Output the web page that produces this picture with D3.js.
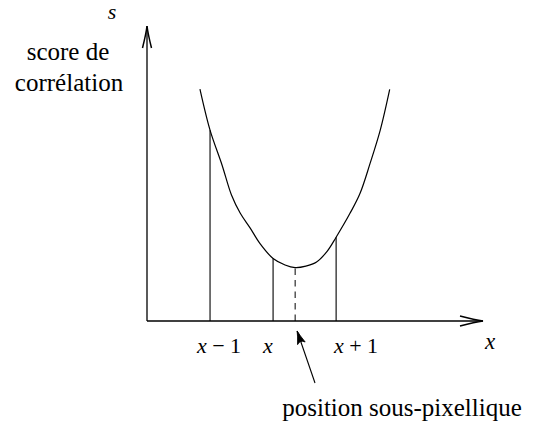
<!DOCTYPE html>
<html>
<head>
<meta charset="utf-8">
<title>score de corrélation</title>
<script src="https://cdn.jsdelivr.net/npm/d3@7"></script>
<style>
  body { margin: 0; background: #fff; }
</style>
</head>
<body>
<div id="container"></div>
<script>
// curve of the correlation score (x in pixel units, s arbitrary)
var curveX = [0.84, 1.0, 1.19, 1.34, 1.48, 1.64, 1.79, 2.0, 2.19, 2.35, 2.52, 2.69, 2.86, 3.0, 3.22, 3.38, 3.54, 3.70, 3.85];
var curveS = [7.86, 6.47, 5.29, 4.27, 3.65, 3.14, 2.63, 2.12, 1.90, 1.81, 1.86, 2.0, 2.37, 2.84, 3.65, 4.33, 5.35, 6.47, 7.85];

// integer pixel samples and the sub-pixel minimum
var sampleX = [1, 2, 3];
var sampleS = [6.47, 2.12, 2.84];
var sampleLabels = ["x-1", "x", "x+1"];
var subX = 2.35, subS = 1.81;

var width = 533, height = 426;

var svg = d3.select("#container").append("svg")
    .attr("width", width)
    .attr("height", height);

var xScale = d3.scaleLinear().domain([0, 5.33]).range([147, 483]);
var yScale = d3.scaleLinear().domain([0, 10]).range([321, 26]);

var g = svg.append("g");

// open latex-like arrow tip, drawn at (x,y) pointing along angle a (degrees)
function tip(x, y, a, len, half) {
  g.append("path")
    .attr("d", "M" + (-len) + "," + (-half) + " Q-8,-1 0,0 Q-8,1 " + (-len) + "," + half)
    .attr("transform", "translate(" + x + "," + y + ") rotate(" + a + ")")
    .attr("fill", "none")
    .attr("stroke", "#000")
    .attr("stroke-width", 1.5);
}

// axes
g.append("line")
    .attr("x1", xScale(0)).attr("y1", yScale(0))
    .attr("x2", xScale(5.33)).attr("y2", yScale(0))
    .attr("stroke", "#000").attr("stroke-width", 1.3);
tip(xScale(5.33), yScale(0), 0, 23, 5);
g.append("line")
    .attr("x1", xScale(0)).attr("y1", yScale(0))
    .attr("x2", xScale(0)).attr("y2", yScale(10))
    .attr("stroke", "#000").attr("stroke-width", 1.3);
tip(xScale(0), yScale(10), -90, 22, 4.5);

// sample verticals
g.selectAll(".sample").data(sampleX).enter()
  .append("line")
    .attr("class", "sample")
    .attr("x1", function(d) { return xScale(d); })
    .attr("x2", function(d) { return xScale(d); })
    .attr("y1", yScale(0))
    .attr("y2", function(d, i) { return yScale(sampleS[i]); })
    .attr("stroke", "#000").attr("stroke-width", 1.1);

// dashed line at the minimum
g.append("line")
    .attr("x1", xScale(subX)).attr("x2", xScale(subX))
    .attr("y1", yScale(0)).attr("y2", yScale(subS))
    .attr("stroke", "#000").attr("stroke-width", 1)
    .attr("stroke-dasharray", "6.5,5");

// the curve
var line = d3.line()
    .x(function(d) { return xScale(d[0]); })
    .y(function(d) { return yScale(d[1]); })
    .curve(d3.curveCatmullRom);
g.append("path")
    .datum(d3.zip(curveX, curveS))
    .attr("d", line)
    .attr("fill", "none")
    .attr("stroke", "#000")
    .attr("stroke-width", 1.2);

// text placed from its left edge, centred by hand on cx
function txt(cx, y, s, size) {
  var t = g.append("text")
    .attr("x", cx).attr("y", y)
    .style("font-family", "Liberation Serif")
    .style("font-size", size + "px")
    .text(s);
  return t;
}
function centre(t, cx) {
  var w = t.node().getComputedTextLength();
  t.attr("x", cx - w / 2);
  return t;
}
// grow the font a bit so the text spans roughly the reference width
function fit(t, target, size) {
  var w = t.node().getComputedTextLength();
  if (w > 0) t.style("font-size", Math.min(25, size * target / w) + "px");
  return t;
}

// tick labels under the samples
var tickPos = [219, 268, 356];
sampleLabels.forEach(function(d, i) {
  var t = txt(tickPos[i], 353, null, 22);
  t.append("tspan").style("font-style", "italic").text("x");
  if (d == "x-1") t.append("tspan").text(" \u2212 1");
  if (d == "x+1") t.append("tspan").text(" + 1");
  centre(t, tickPos[i]);
});

// axis names
centre(txt(490, 349, "x", 23).style("font-style", "italic"), 490);
centre(txt(112, 19, "s", 22).style("font-style", "italic"), 112);

centre(fit(txt(68, 60, "score de", 22), 89, 22), 68);
centre(fit(txt(69, 91, "corrélation", 22), 115, 22), 69);

// pointer to the sub-pixel position
var px0 = 315, py0 = 383, px1 = xScale(subX) + 2, py1 = yScale(0) + 10;
g.append("line")
    .attr("x1", px0).attr("y1", py0)
    .attr("x2", px1).attr("y2", py1)
    .attr("stroke", "#000").attr("stroke-width", 1.1);
g.append("path")
    .attr("d", "M-13,-4 Q-5,-1 0,0 Q-5,1 -13,4 Q-9,0 -13,-4 Z")
    .attr("transform", "translate(" + px1 + "," + py1 + ") rotate(" + (Math.atan2(py1 - py0, px1 - px0) * 180 / Math.PI) + ")")
    .attr("fill", "#000")
    .attr("stroke", "#000")
    .attr("stroke-width", 0.8);
centre(fit(txt(402, 416, "position sous-pixellique", 22), 258, 22), 402);
</script>
</body>
</html>
